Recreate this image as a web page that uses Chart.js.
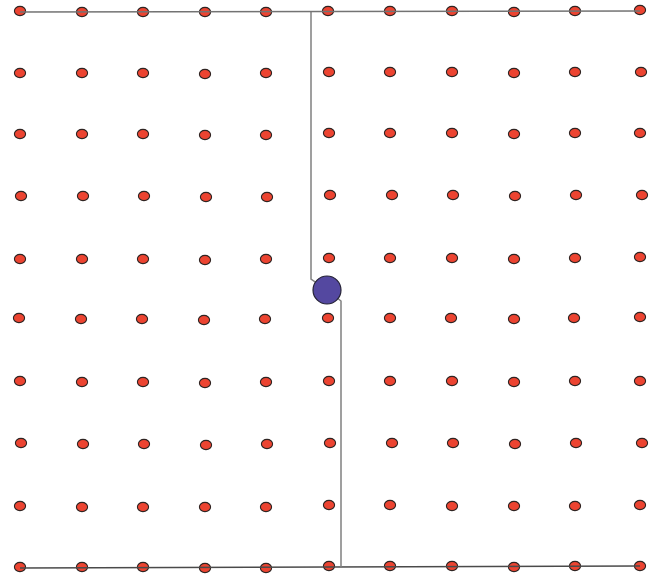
<!DOCTYPE html>
<html>
<head>
<meta charset="utf-8">
<script src="https://cdn.jsdelivr.net/npm/chart.js@4"></script>
<style>
  html, body { margin: 0; padding: 0; background: #fff; }
  #chart { display: block; }
</style>
</head>
<body>
<canvas id="chart" width="649" height="580"></canvas>
<script>
// grid of nodes (x and y per row)
const rowX = [
  [20, 82, 143, 205, 266, 328, 390, 452, 514, 575, 640],
  [20, 82, 143, 205, 266, 329, 390, 452, 514, 575, 641],
  [20, 82, 143, 205, 266, 329, 390, 452, 514, 575, 640],
  [21, 83, 144, 206, 267, 330, 392, 453, 515, 576, 642],
  [20, 82, 143, 205, 266, 329, 390, 452, 514, 575, 640],
  [19, 81, 142, 204, 265, 328, 390, 451, 514, 574, 640],
  [20, 82, 143, 205, 266, 329, 390, 452, 514, 575, 640],
  [21, 83, 144, 206, 267, 330, 392, 453, 515, 576, 642],
  [20, 82, 143, 205, 266, 329, 390, 452, 514, 575, 640],
  [20, 82, 143, 205, 266, 329, 390, 452, 514, 575, 640]
];
const rowY = [
  [11, 12, 12, 12, 12, 11, 11, 11, 12, 11, 10],
  [73, 73, 73, 74, 73, 72, 72, 72, 73, 72, 72],
  [134, 134, 134, 135, 135, 133, 133, 133, 134, 133, 133],
  [196, 196, 196, 197, 197, 195, 195, 195, 196, 195, 195],
  [259, 259, 259, 260, 259, 258, 258, 258, 259, 258, 257],
  [318, 319, 319, 320, 319, 318, 318, 318, 319, 318, 317],
  [381, 382, 382, 383, 382, 381, 381, 381, 382, 381, 381],
  [443, 444, 444, 445, 444, 443, 443, 443, 444, 443, 443],
  [506, 507, 507, 507, 507, 505, 505, 506, 506, 506, 505],
  [567, 567, 567, 568, 568, 566, 566, 566, 567, 566, 566]
];

// wires
const topWireX = [20, 640];
const topWireY = [12, 11];
const upperDropX = [311, 311, 327];
const upperDropY = [12, 279, 290];
const lowerDropX = [327, 341, 341];
const lowerDropY = [290, 301, 567];
const bottomWireX = [20, 640];
const bottomWireY = [568, 566];

// hub
const hubX = [327];
const hubY = [290];

function toPoints(xs, ys) {
  return xs.map((x, i) => ({ x, y: ys[i] }));
}

const nodes = [];
rowX.forEach((xs, r) => nodes.push(...toPoints(xs, rowY[r])));

// small ellipse marker for the nodes
const dot = document.createElement('canvas');
dot.width = 14;
dot.height = 12;
const dctx = dot.getContext('2d');
dctx.beginPath();
dctx.ellipse(7, 6, 5.6, 4.6, 0, 0, Math.PI * 2);
dctx.fillStyle = '#ec4431';
dctx.fill();
dctx.lineWidth = 1.1;
dctx.strokeStyle = '#2e2422';
dctx.stroke();

function wire(xs, ys, color, order) {
  return {
    type: 'line',
    data: toPoints(xs, ys),
    borderColor: color,
    borderWidth: 1.5,
    pointRadius: 0,
    fill: false,
    tension: 0,
    order
  };
}

new Chart(document.getElementById('chart').getContext('2d'), {
  type: 'scatter',
  data: {
    datasets: [
      {
        data: toPoints(hubX, hubY),
        pointStyle: 'circle',
        pointRadius: 14,
        backgroundColor: '#5448a0',
        borderColor: '#262436',
        borderWidth: 1.2,
        order: 0
      },
      wire(topWireX, topWireY, '#737373', 1),
      wire(upperDropX, upperDropY, '#808080', 1),
      wire(lowerDropX, lowerDropY, '#808080', 1),
      wire(bottomWireX, bottomWireY, '#4a4a4a', 1),
      {
        data: nodes,
        pointStyle: dot,
        pointRadius: 6,
        order: 2
      }
    ]
  },
  options: {
    responsive: false,
    animation: false,
    clip: false,
    layout: { padding: 0, autoPadding: false },
    plugins: {
      legend: { display: false },
      tooltip: { enabled: false }
    },
    scales: {
      x: { type: 'linear', display: false, min: 0, max: 649 },
      y: { type: 'linear', display: false, min: 0, max: 580, reverse: true }
    }
  }
});
</script>
</body>
</html>
